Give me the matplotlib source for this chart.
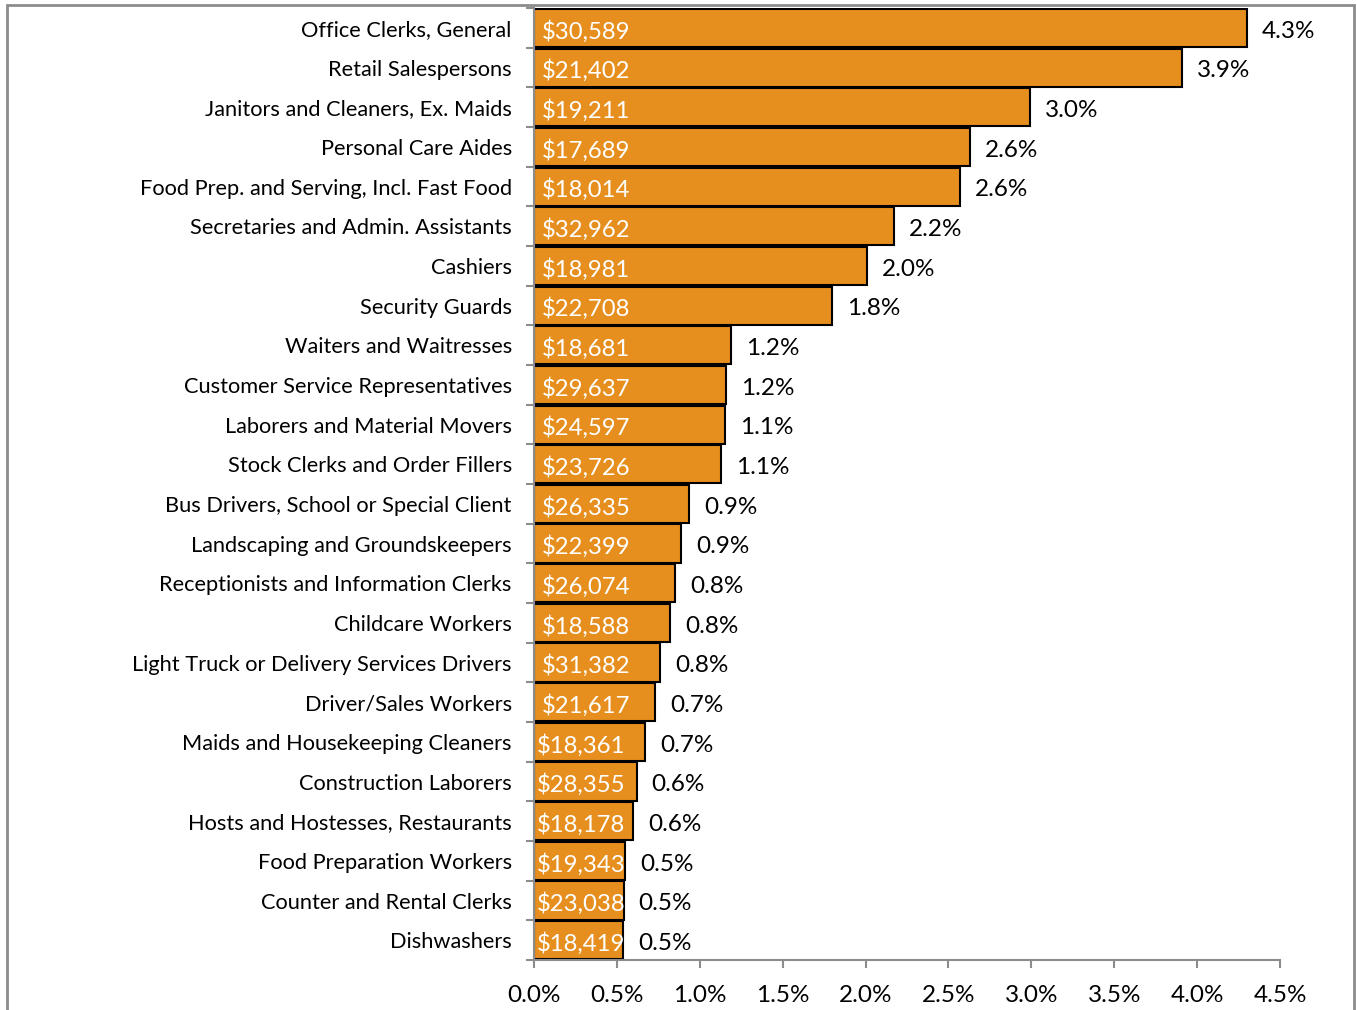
import matplotlib as mpl
mpl.use('Agg')
import matplotlib.pyplot as plt
import matplotlib.patches as patches
import numpy as np

plt.rcParams['font.family'] = ['Lato', 'DejaVu Sans']

# occupations, top to bottom
jobs = ['Office Clerks, General', 'Retail Salespersons', 'Janitors and Cleaners, Ex. Maids',
        'Personal Care Aides', 'Food Prep. and Serving, Incl. Fast Food',
        'Secretaries and Admin. Assistants', 'Cashiers', 'Security Guards',
        'Waiters and Waitresses', 'Customer Service Representatives',
        'Laborers and Material Movers', 'Stock Clerks and Order Fillers',
        'Bus Drivers, School or Special Client', 'Landscaping and Groundskeepers',
        'Receptionists and Information Clerks', 'Childcare Workers',
        'Light Truck or Delivery Services Drivers', 'Driver/Sales Workers',
        'Maids and Housekeeping Cleaners', 'Construction Laborers',
        'Hosts and Hostesses, Restaurants', 'Food Preparation Workers',
        'Counter and Rental Clerks', 'Dishwashers']
share = [4.30, 3.91, 2.99, 2.63, 2.57, 2.17, 2.01, 1.80, 1.19, 1.16, 1.15, 1.13,
         0.935, 0.887, 0.85, 0.82, 0.76, 0.73, 0.67, 0.62, 0.60, 0.55, 0.54, 0.537]
share_lbl = ['4.3%', '3.9%', '3.0%', '2.6%', '2.6%', '2.2%', '2.0%', '1.8%', '1.2%', '1.2%',
             '1.1%', '1.1%', '0.9%', '0.9%', '0.8%', '0.8%', '0.8%', '0.7%', '0.7%', '0.6%',
             '0.6%', '0.5%', '0.5%', '0.5%']
wages = ['$30,589', '$21,402', '$19,211', '$17,689', '$18,014', '$32,962', '$18,981',
         '$22,708', '$18,681', '$29,637', '$24,597', '$23,726', '$26,335', '$22,399',
         '$26,074', '$18,588', '$31,382', '$21,617', '$18,361', '$28,355', '$18,178',
         '$19,343', '$23,038', '$18,419']

fig = plt.figure(figsize=(13.57, 10.10), dpi=100)
ax = fig.add_axes([0.3935, 0.0495, 0.5498, 0.9425])

y = np.arange(len(jobs))
ax.barh(y, share, height=0.96, color='#E68F1E', edgecolor='black', linewidth=1.5)

for i in range(len(jobs)):
    # keep the wage text inside the short bars
    off = 0.045 if share[i] > 0.7 else 0.018
    ax.text(off, y[i] + 0.08, wages[i], color='white', fontsize=17.2, va='center', ha='left')
    ax.text(share[i] + 0.09, y[i] + 0.08, share_lbl[i], color='black', fontsize=17.5,
            va='center', ha='left')

ax.set_xlim(0, 4.5)
ax.set_ylim(len(jobs) - 0.5, -0.5)
ax.set_xticks(np.arange(0, 4.51, 0.5))
ax.set_xticklabels(['%.1f%%' % v for v in np.arange(0, 4.51, 0.5)], fontsize=17.5)
ax.set_yticks(y)
ax.set_yticklabels(jobs, fontsize=15.7)
ax.set_yticks(np.arange(-0.5, len(jobs), 1), minor=True)
ax.tick_params(axis='y', which='major', length=0, pad=16)
ax.tick_params(axis='y', which='minor', length=6, color='#8c8c8c', width=1.5)
ax.tick_params(axis='x', length=6, color='#8c8c8c', width=1.5, pad=12)
for s in ['top', 'right']:
    ax.spines[s].set_visible(False)
for s in ['left', 'bottom']:
    ax.spines[s].set_color('#8c8c8c')
    ax.spines[s].set_linewidth(1.5)

# outer frame (bottom edge falls outside the picture)
fig.patches.append(patches.Rectangle((7 / 1357, -0.05), 1347 / 1357, 1.05 - 5 / 1010,
                                     transform=fig.transFigure, fill=False,
                                     edgecolor='#8c8c8c', linewidth=2))

fig.savefig('out.png', dpi=100)
